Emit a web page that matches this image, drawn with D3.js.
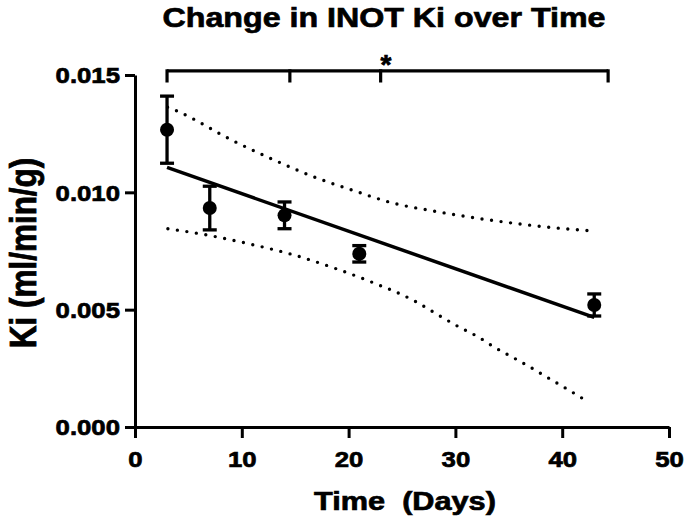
<!DOCTYPE html>
<html>
<head>
<meta charset="utf-8">
<script src="https://cdn.jsdelivr.net/npm/d3@7/dist/d3.min.js"></script>
<style>
  html, body { margin: 0; padding: 0; background: #fff; }
  svg { display: block; }
  text { font-family: "Liberation Sans", Arial, Helvetica, sans-serif; font-weight: bold; fill: #000; stroke: #000; stroke-width: 0.7px; }
</style>
</head>
<body>
<svg id="chart" width="685" height="522"></svg>
<script>
// ---- data ----
const days = [3, 7, 14, 21, 43];
const kiMean = [0.01267, 0.00933, 0.00902, 0.00738, 0.00520];
const kiSem = [0.00143, 0.00093, 0.00057, 0.00035, 0.00047];

const fitDays = [3, 43];
const fitKi = [0.01106, 0.00467];

const upperBandDays = [3.05, 3.96, 9.26, 12.92, 16.62, 20.37, 24.17, 27.99, 31.99, 36.05, 39.96, 42.93];
const upperBandKi = [0.01363, 0.01346, 0.01218, 0.01140, 0.01068, 0.01009, 0.00954, 0.00920, 0.00890, 0.00865, 0.00846, 0.00835];

const lowerBandDays = [3.08, 6.99, 10.92, 14.80, 18.55, 22.30, 26.05, 28.3, 30.43, 32.09, 33.80, 35.56, 37.30, 38.99, 40.74, 42.40];
const lowerBandKi = [0.00845, 0.00816, 0.00778, 0.00734, 0.00679, 0.00615, 0.00540, 0.00480, 0.00424, 0.00385, 0.00336, 0.00292, 0.00247, 0.00201, 0.00154, 0.00108];

const xTicks = [0, 10, 20, 30, 40, 50];
const yTicks = [0.000, 0.005, 0.010, 0.015];

const bracketDays = [3, 14.5, 23, 44.3];
const significanceLabel = "*";
const significanceDay = 23.5;

const titleText = "Change in INOT Ki over Time";
const xTitle = "Time\u00a0\u00a0(Days)";
const yTitle = "Ki (ml/min/g)";

// ---- layout ----
const svg = d3.select("#chart");
const x = d3.scaleLinear().domain([0, 50]).range([135, 669]);
const y = d3.scaleLinear().domain([0, 0.015]).range([427, 75]);
const SX = 1.12; // horizontal glyph stretch seen in reference

// confidence bands
const bandLine = d3.line().x(d => x(d[0])).y(d => y(d[1])).curve(d3.curveMonotoneX);
[[upperBandDays, upperBandKi], [lowerBandDays, lowerBandKi]].forEach(([dx, dy]) => {
  svg.append("path")
    .attr("d", bandLine(dx.map((d, i) => [d, dy[i]])))
    .attr("fill", "none")
    .attr("stroke", "#000")
    .attr("stroke-width", 3.4)
    .attr("stroke-linecap", "round")
    .attr("stroke-dasharray", "0 9.6");
});

// regression line
svg.append("path")
  .attr("d", d3.line().x(d => x(d[0])).y(d => y(d[1]))(fitDays.map((d, i) => [d, fitKi[i]])))
  .attr("fill", "none")
  .attr("stroke", "#000")
  .attr("stroke-width", 3.5);

// axes
const yAxis = svg.append("g")
  .attr("transform", `translate(${x(0)},0)`)
  .call(d3.axisLeft(y).tickValues(yTicks).tickFormat(d3.format(".3f")).tickSize(10).tickSizeOuter(0));
const xAxis = svg.append("g")
  .attr("transform", `translate(0,${y(0)})`)
  .call(d3.axisBottom(x).tickValues(xTicks).tickFormat(d3.format("d")).tickSize(11).tickSizeOuter(0));

[yAxis, xAxis].forEach(g => {
  g.select(".domain").attr("stroke", "#000").attr("stroke-width", 3);
  g.selectAll(".tick line").attr("stroke", "#000").attr("stroke-width", 3);
  g.selectAll(".tick text")
    .attr("font-family", "Liberation Sans, Arial, sans-serif")
    .attr("font-weight", "bold")
    .attr("font-size", 23)
    .attr("fill", "#000");
});
yAxis.selectAll(".tick text").attr("x", -15 / SX).attr("dy", "0.34em").attr("transform", `scale(${SX},1)`);
xAxis.selectAll(".tick text").attr("y", 24).attr("transform", `scale(${SX},1)`);

// error bars
const cap = 7;
days.forEach((d, i) => {
  const cx = x(d);
  const top = y(kiMean[i] + kiSem[i]);
  const bot = y(kiMean[i] - kiSem[i]);
  const g = svg.append("g").attr("stroke", "#000").attr("stroke-width", 3.3);
  g.append("line").attr("x1", cx).attr("x2", cx).attr("y1", top).attr("y2", bot);
  g.append("line").attr("x1", cx - cap).attr("x2", cx + cap).attr("y1", top).attr("y2", top);
  g.append("line").attr("x1", cx - cap).attr("x2", cx + cap).attr("y1", bot).attr("y2", bot);
});

// points
svg.append("g").selectAll("circle")
  .data(days.map((d, i) => [d, kiMean[i]]))
  .join("circle")
  .attr("cx", d => x(d[0]))
  .attr("cy", d => y(d[1]))
  .attr("r", 7)
  .attr("fill", "#000");

// significance bracket
const bracketY = y(0.01518);
const bracketTickY = y(0.01468);
const bg = svg.append("g").attr("stroke", "#000").attr("stroke-width", 3.2).attr("fill", "none");
bg.append("line").attr("x1", x(bracketDays[0])).attr("x2", x(bracketDays[bracketDays.length - 1]))
  .attr("y1", bracketY).attr("y2", bracketY);
bracketDays.forEach(d => {
  bg.append("line").attr("x1", x(d)).attr("x2", x(d)).attr("y1", bracketY - 1.5).attr("y2", bracketTickY);
});
svg.append("text")
  .attr("x", x(significanceDay))
  .attr("y", 74)
  .attr("text-anchor", "middle")
  .attr("font-size", 28)
  .text(significanceLabel);

// title
svg.append("g").attr("transform", "translate(384,27)")
  .append("text")
  .attr("text-anchor", "middle")
  .attr("font-size", 28)
  .attr("transform", "scale(1.15,1)")
  .text(titleText);

// x title
svg.append("g").attr("transform", "translate(405,510)")
  .append("text")
  .attr("text-anchor", "middle")
  .attr("font-size", 26)
  .attr("transform", "scale(1.18,1)")
  .text(xTitle);

// y title
svg.append("g").attr("transform", "translate(36,253) rotate(-90)")
  .append("text")
  .attr("text-anchor", "middle")
  .attr("font-size", 31.5)
  .attr("transform", "scale(1,1.18)")
  .text(yTitle);
</script>
</body>
</html>
